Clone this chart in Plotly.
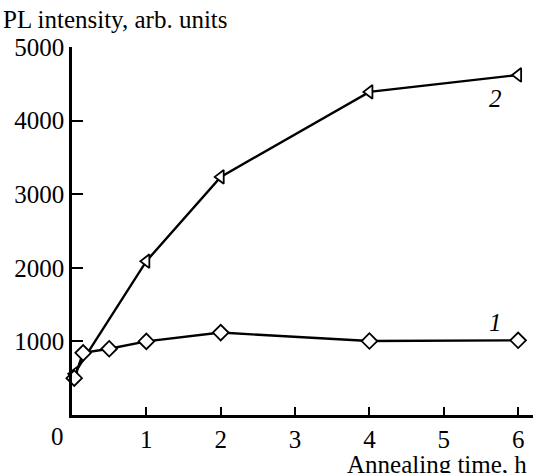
import plotly.graph_objects as go

# Series 1 (diamonds)
x1 = [0.03, 0.15, 0.5, 1, 2, 4, 6]
y1 = [500, 845, 900, 1000, 1120, 1005, 1015]
# Series 2 (left triangles)
x2 = [0.03, 1, 2, 4, 6]
y2 = [560, 2090, 3235, 4390, 4620]

xticks = [1, 2, 3, 4, 5, 6]
yticks = [1000, 2000, 3000, 4000, 5000]

FONT = "Liberation Serif"
FS = 25

fig = go.Figure()
fig.add_trace(go.Scatter(x=x2, y=y2, mode="lines+markers",
                         line=dict(color="black", width=2.4),
                         marker=dict(symbol="triangle-left", size=12, color="white",
                                     line=dict(color="black", width=1.8)),
                         cliponaxis=False, showlegend=False))
fig.add_trace(go.Scatter(x=x1, y=y1, mode="lines+markers",
                         line=dict(color="black", width=2.4),
                         marker=dict(symbol="diamond", size=12, color="white",
                                     line=dict(color="black", width=1.8)),
                         cliponaxis=False, showlegend=False))

fig.update_layout(
    width=533, height=473,
    margin=dict(l=71.5, r=0, t=47, b=58),
    paper_bgcolor="white", plot_bgcolor="white",
    font=dict(family=FONT, size=FS, color="black"),
    xaxis=dict(range=[0, 6.2], tickvals=xticks, ticks="inside", ticklen=8,
               tickwidth=2, tickcolor="black", showline=True, linecolor="black",
               linewidth=2.5, showgrid=False, zeroline=False,
               tickfont=dict(family=FONT, size=FS)),
    yaxis=dict(range=[0, 5000], tickvals=yticks, ticks="inside", ticklen=11,
               tickwidth=2, tickcolor="black", showline=True, linecolor="black",
               linewidth=2.5, showgrid=False, zeroline=False,
               tickfont=dict(family=FONT, size=FS)),
    annotations=[
        dict(text="PL intensity, arb. units", xref="paper", yref="paper",
             x=-71.5/461.5, y=1, yshift=28, xanchor="left", yanchor="middle",
             showarrow=False, font=dict(family=FONT, size=FS)),
        dict(text="Annealing time, h", xref="paper", yref="paper",
             x=1, xshift=-4, y=0, yshift=-49, xanchor="right", yanchor="middle",
             showarrow=False, font=dict(family=FONT, size=FS)),
        dict(text="0", xref="paper", yref="paper", x=0, xshift=-15, y=0, yshift=-21,
             xanchor="center", yanchor="middle", showarrow=False,
             font=dict(family=FONT, size=FS)),
        dict(text="<i>1</i>", xref="x", yref="y", x=5.7, y=1000, yshift=19,
             xanchor="center", yanchor="middle", showarrow=False,
             font=dict(family=FONT, size=FS)),
        dict(text="<i>2</i>", xref="x", yref="y", x=5.7, y=4620, yshift=-24,
             xanchor="center", yanchor="middle", showarrow=False,
             font=dict(family=FONT, size=FS)),
    ],
)

fig.write_html("out.html")
